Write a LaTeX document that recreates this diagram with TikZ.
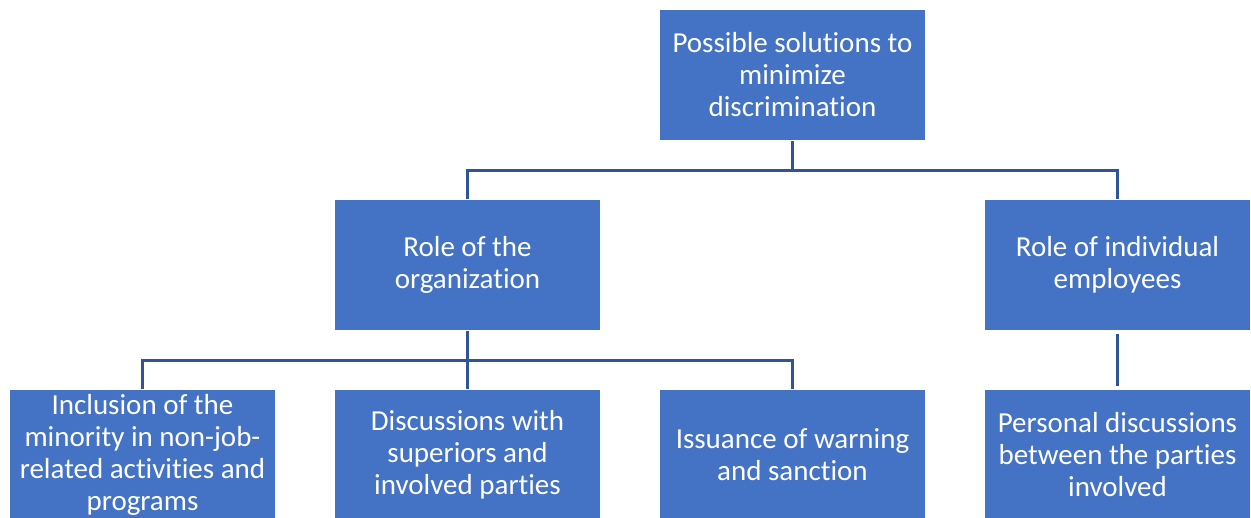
\documentclass[tikz,border=0pt]{standalone}
\usepackage{fontspec}
\setmainfont[Ligatures=CommonOff]{Carlito}
\definecolor{boxblue}{HTML}{4472C4}
\definecolor{lineblue}{HTML}{2F5597}
\tikzset{
  solbox/.style={fill=boxblue, text=white, minimum width=265pt, minimum height=130pt,
    inner sep=0pt, align=center, font=\fontsize{29}{32}\selectfont},
  branch/.style={draw=lineblue, line width=2.5pt}
}
\begin{document}
\begin{tikzpicture}[x=1pt, y=-1pt]
  \useasboundingbox (0,0) rectangle (1251,518);
  \clip (0,0) rectangle (1251,518);
  % top of the tree
  \node [solbox] (goal) at (792.5,75) {Possible solutions to\\minimize\\discrimination};
  % second level
  \node [solbox] (org) at (467.5,265) {Role of the\\organization};
  \node [solbox] (emp) at (1117.5,265) {Role of individual\\employees};
  % leaves
  \node [solbox] (incl) at (142.5,455) {Inclusion of the\\minority in non-job-\\related activities and\\programs};
  \node [solbox] (disc) at (467.5,455) {Discussions with\\superiors and\\involved parties};
  \node [solbox] (warn) at (792.5,455) {Issuance of warning\\and sanction};
  \node [solbox] (pers) at (1117.5,455) {Personal discussions\\between the parties\\involved};

  \draw [branch] ([yshift=-1pt]goal.south) -- ++(0,29.5) -| ([yshift=1pt]org.north);
  \draw [branch] ([yshift=-1pt]goal.south) -- ++(0,29.5) -| ([yshift=1pt]emp.north);
  \foreach \leaf in {incl, disc, warn}
    \draw [branch] ([yshift=-1pt]org.south) -- ++(0,29.5) -| ([yshift=1pt]\leaf.north);
  \draw [branch] ([yshift=-4pt]emp.south) -- ([yshift=4pt]pers.north);
\end{tikzpicture}
\end{document}
